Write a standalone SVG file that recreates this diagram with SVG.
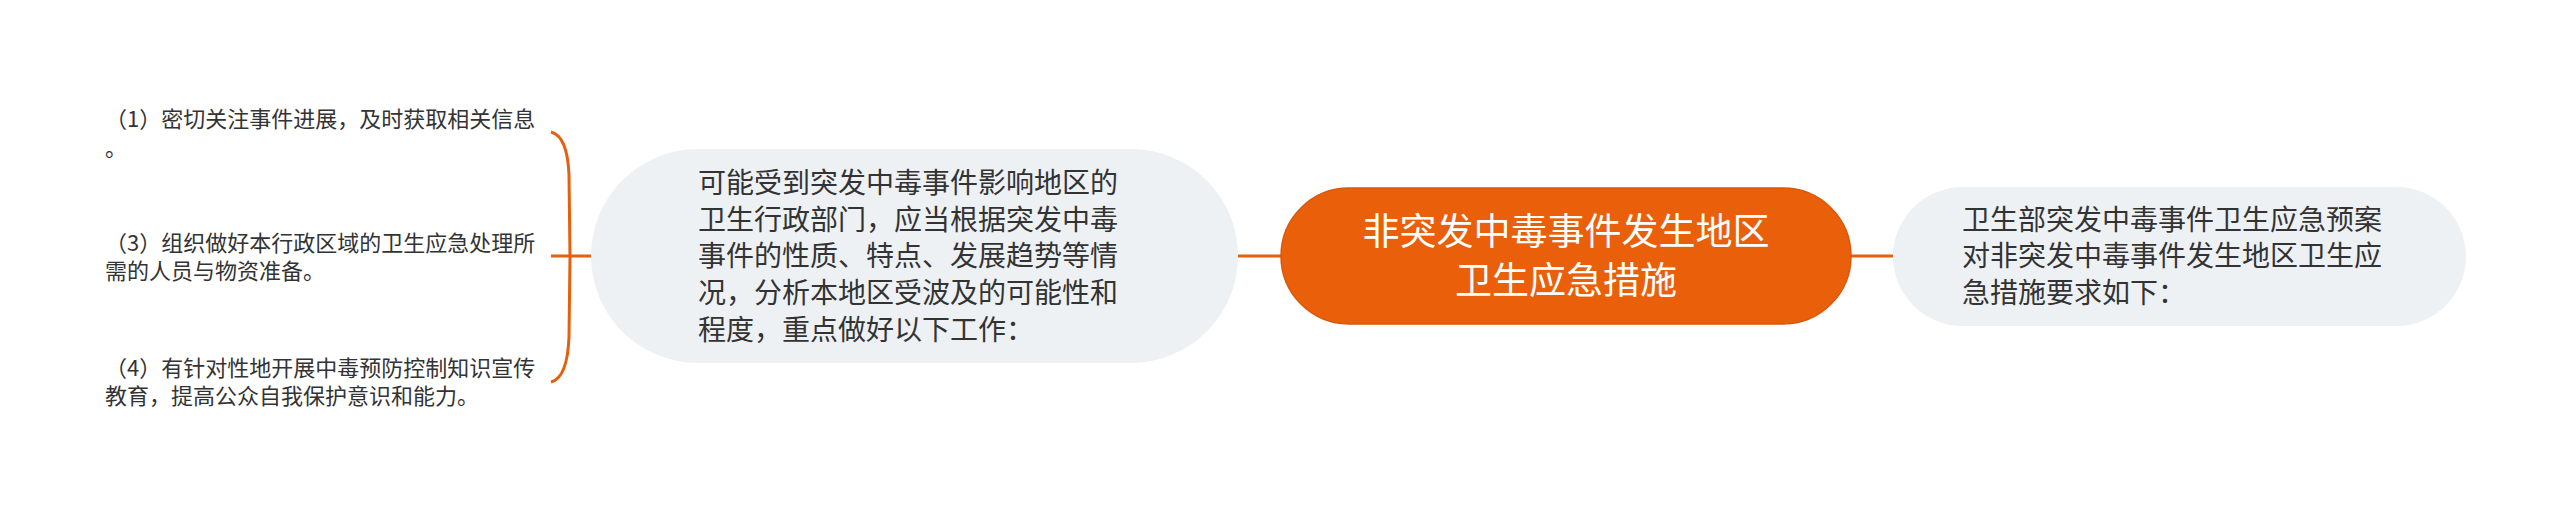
<svg xmlns="http://www.w3.org/2000/svg" width="2560" height="513" viewBox="0 0 2560 513">
<style>
  .sub { fill: #EEF1F4; }
  .t { font-family: "Noto Sans CJK SC", "Noto Sans", sans-serif; fill: #333333; }
  .t28 { font-size: 28px; }
  .t22 { font-size: 22px; }
  .tc { font-family: "Noto Sans CJK SC", "Noto Sans", sans-serif; font-size: 37px; fill: #FFFFFF; text-anchor: middle; }
  .ln { stroke: #E5600C; stroke-width: 3; fill: none; }
</style>
<rect width="2560" height="513" fill="#FFFFFF"/>
<g id="connectors">
  <line class="ln" x1="1851" y1="256" x2="1893" y2="256"/>
  <line class="ln" x1="1238" y1="256" x2="1281" y2="256"/>
  <line class="ln" x1="551" y1="256" x2="591" y2="256"/>
  <path class="ln" d="M551,132 C563,135 568,150 569,175 L570,256 L569,337 C568,362 563,379 551,382"/>
</g>
<g id="center">
  <rect x="1281" y="188" width="570" height="136" rx="68" fill="#EA600A" stroke="#D9570A" stroke-width="1.5"/>
  <text class="tc" x="1566" y="245">非突发中毒事件发生地区</text>
  <text class="tc" x="1566" y="294">卫生应急措施</text>
</g>
<g id="right">
  <rect class="sub" x="1893" y="187" width="573" height="139" rx="69.5"/>
  <text class="t t28" x="1962" y="230">卫生部突发中毒事件卫生应急预案</text>
  <text class="t t28" x="1962" y="266">对非突发中毒事件发生地区卫生应</text>
  <text class="t t28" x="1962" y="303">急措施要求如下：</text>
</g>
<g id="left">
  <rect class="sub" x="591" y="149" width="647" height="214" rx="107"/>
  <text class="t t28" x="698" y="193">可能受到突发中毒事件影响地区的</text>
  <text class="t t28" x="698" y="230">卫生行政部门，应当根据突发中毒</text>
  <text class="t t28" x="698" y="266">事件的性质、特点、发展趋势等情</text>
  <text class="t t28" x="698" y="303">况，分析本地区受波及的可能性和</text>
  <text class="t t28" x="698" y="340">程度，重点做好以下工作：</text>
</g>
<g id="leaf1">
  <text class="t t22" x="105" y="127">（1）密切关注事件进展，及时获取相关信息</text>
  <text class="t t22" x="105" y="156">。</text>
</g>
<g id="leaf3">
  <text class="t t22" x="105" y="251">（3）组织做好本行政区域的卫生应急处理所</text>
  <text class="t t22" x="105" y="279">需的人员与物资准备。</text>
</g>
<g id="leaf4">
  <text class="t t22" x="105" y="376">（4）有针对性地开展中毒预防控制知识宣传</text>
  <text class="t t22" x="105" y="404">教育，提高公众自我保护意识和能力。</text>
</g>
</svg>
